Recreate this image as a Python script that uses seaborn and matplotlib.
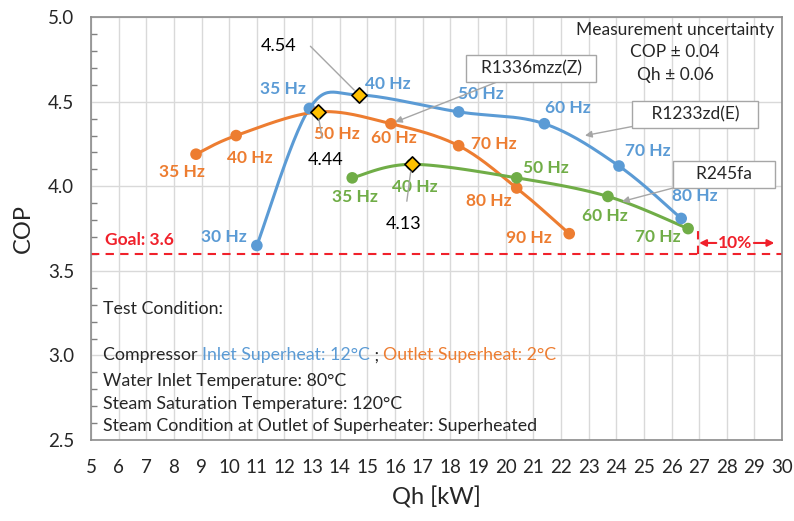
import numpy as np
import matplotlib
matplotlib.use("Agg")
import matplotlib.pyplot as plt
from matplotlib.ticker import MultipleLocator
import pandas as pd
import seaborn as sns

# values
freq_r1233 = ["30 Hz", "35 Hz", "40 Hz", "50 Hz", "60 Hz", "70 Hz", "80 Hz"]
qh_r1233 = [11.0, 12.9, 14.7, 18.3, 21.4, 24.1, 26.35]
cop_r1233 = [3.65, 4.46, 4.54, 4.44, 4.37, 4.12, 3.81]

freq_r1336 = ["35 Hz", "40 Hz", "50 Hz", "60 Hz", "70 Hz", "80 Hz", "90 Hz"]
qh_r1336 = [8.8, 10.25, 13.2, 15.85, 18.3, 20.4, 22.3]
cop_r1336 = [4.19, 4.30, 4.44, 4.37, 4.24, 3.99, 3.72]

freq_r245 = ["35 Hz", "40 Hz", "50 Hz", "60 Hz", "70 Hz"]
qh_r245 = [14.45, 16.6, 20.4, 23.7, 26.6]
cop_r245 = [4.05, 4.13, 4.05, 3.94, 3.75]

goal_cop = 3.6
uncertainty = ["Measurement uncertainty", "COP \u00b1 0.04", "Qh \u00b1 0.06"]
conditions = ["Water Inlet Temperature: 80\u00b0C",
              "Steam Saturation Temperature: 120\u00b0C",
              "Steam Condition at Outlet of Superheater: Superheated"]

BLUE, ORANGE, GREEN = "#5B9BD5", "#ED7D31", "#70AD47"
RED = "#F0212B"
GRAY = "#A6A6A6"

# label offsets (points) for the frequency tags
off_r1233 = [(-24, 6), (-19, 14), (21, 8), (16, 13), (17, 11), (21, 11), (10, 16)]
off_r1336 = [(-10, -13), (10, -16), (14, -16), (2, -10), (25, 1), (-20, -9), (-29, -3)]
off_r245 = [(2, -14), (2, -16), (21, 7), (-2, -14), (-22, -6)]


def smooth(x, y, n=30):
    """Excel-like smoothed line (Catmull-Rom bezier through the points)."""
    p = np.column_stack([x, y]).astype(float)
    p_ext = np.vstack([p[0], p, p[-1]])
    t = np.linspace(0, 1, n)[:, None]
    segs = []
    for i in range(len(p) - 1):
        p0, p1, p2, p3 = p_ext[i], p_ext[i + 1], p_ext[i + 2], p_ext[i + 3]
        b1 = p1 + (p2 - p0) / 6
        b2 = p2 - (p3 - p1) / 6
        seg = ((1 - t) ** 3) * p1 + 3 * ((1 - t) ** 2) * t * b1 + 3 * (1 - t) * t ** 2 * b2 + t ** 3 * p2
        segs.append(seg)
    c = np.vstack(segs)
    return c[:, 0], c[:, 1]


sns.set_theme(style="white")
plt.rcParams["font.family"] = ["Lato", "DejaVu Sans"]

fig = plt.figure(figsize=(7.94, 5.21), dpi=100)
ax = fig.add_axes([0.1146, 0.1555, 0.8704, 0.8115])

df = pd.concat([
    pd.DataFrame({"Qh": qh_r1233, "COP": cop_r1233, "ref": "R1233zd(E)"}),
    pd.DataFrame({"Qh": qh_r1336, "COP": cop_r1336, "ref": "R1336mzz(Z)"}),
    pd.DataFrame({"Qh": qh_r245, "COP": cop_r245, "ref": "R245fa"}),
])
palette = {"R1233zd(E)": BLUE, "R1336mzz(Z)": ORANGE, "R245fa": GREEN}

series = [(qh_r1233, cop_r1233, freq_r1233, off_r1233, BLUE),
          (qh_r1336, cop_r1336, freq_r1336, off_r1336, ORANGE),
          (qh_r245, cop_r245, freq_r245, off_r245, GREEN)]

for qh, cop, freq, offs, col in series:
    sx, sy = smooth(qh, cop)
    ax.plot(sx, sy, color=col, lw=2.2, zorder=3)
    for q, c, f, o in zip(qh, cop, freq, offs):
        ax.annotate(f, (q, c), xytext=o, textcoords="offset points", ha="center", va="center",
                    color=col, fontsize=12.5, fontweight="bold", zorder=6)

sns.scatterplot(data=df, x="Qh", y="COP", hue="ref", palette=palette, s=70,
                edgecolor="none", legend=False, ax=ax, zorder=4)

# maximum COP of each refrigerant
best = [(qh[int(np.argmax(cop))], max(cop)) for qh, cop, *_ in series]
ax.scatter([b[0] for b in best], [b[1] for b in best], marker="D", s=60,
           color="#FFC000", edgecolor="black", linewidth=1.2, zorder=5)
leaders = [((11.77, 4.83), "angle,angleA=0,angleB=135,rad=0"),
           ((13.5, 4.155), "arc3"),
           ((16.32, 3.78), "arc3")]
for (bq, bc), (txt, cs) in zip(best, leaders):
    ax.annotate(f"{bc:.2f}", (bq, bc), xytext=txt, ha="center", va="center", fontsize=13,
                color="black", zorder=6,
                arrowprops=dict(arrowstyle="-", color=GRAY, lw=1, shrinkA=8, shrinkB=5,
                                connectionstyle=cs))

# refrigerant name boxes
for name, (tx, ty), (ax_, ay_) in [("  R1336mzz(Z)  ", (20.92, 4.696), (16.0, 4.38)),
                                   ("   R1233zd(E)   ", (26.85, 4.425), (22.87, 4.30)),
                                   ("    R245fa    ", (27.9, 4.07), (24.21, 3.91))]:
    ax.annotate(name, (ax_, ay_), xytext=(tx, ty), ha="center", va="center", fontsize=12.5,
                bbox=dict(boxstyle="square,pad=0.3", fc="white", ec=GRAY, lw=1),
                arrowprops=dict(arrowstyle="-|>", color=GRAY, lw=1, mutation_scale=10,
                                shrinkA=0, shrinkB=0), zorder=7)

# goal line
ax.axhline(goal_cop, color=RED, ls=(0, (4, 3)), lw=1.5, zorder=2)
ax.text(5.5, 3.68, f"Goal: {goal_cop}", color=RED, fontsize=12.5, fontweight="bold",
        ha="left", va="center")
ax.plot([26.96, 26.96], [goal_cop, 3.75], color=RED, ls=(0, (4, 3)), lw=1.5)
ax.text(28.3, 3.665, "10%", color=RED, fontsize=12.5, fontweight="bold", ha="center", va="center")
ax.annotate("", (27.0, 3.665), xytext=(27.62, 3.665),
            arrowprops=dict(arrowstyle="-|>", color=RED, lw=1.5, mutation_scale=10, shrinkA=0, shrinkB=0))
ax.annotate("", (29.72, 3.665), xytext=(28.98, 3.665),
            arrowprops=dict(arrowstyle="-|>", color=RED, lw=1.5, mutation_scale=10, shrinkA=0, shrinkB=0))

for yy, line in zip([4.923, 4.793, 4.66], uncertainty):
    ax.text(26.13, yy, line, ha="center", va="center", fontsize=12.5)

# test condition block
fs = 12.8
ax.text(5.43, 3.274, "Test Condition:", fontsize=fs, ha="left", va="center")
t1 = ax.text(5.43, 3.0, "Compressor ", fontsize=fs, ha="left", va="center")
t2 = ax.annotate("Inlet Superheat: 12\u00b0C", xy=(1, 0), xycoords=t1, va="bottom",
                 fontsize=fs, color=BLUE)
t3 = ax.annotate(" ; ", xy=(1, 0), xycoords=t2, va="bottom", fontsize=fs)
ax.annotate("Outlet Superheat: 2\u00b0C", xy=(1, 0), xycoords=t3, va="bottom",
            fontsize=fs, color=ORANGE)
for yy, line in zip([2.849, 2.713, 2.583], conditions):
    ax.text(5.43, yy, line, fontsize=fs, ha="left", va="center")

ax.set_xlim(5, 30)
ax.set_ylim(2.5, 5.0)
ax.xaxis.set_major_locator(MultipleLocator(1))
ax.yaxis.set_major_locator(MultipleLocator(0.5))
ax.yaxis.set_minor_locator(MultipleLocator(0.1))
ax.yaxis.set_major_formatter(plt.FormatStrFormatter("%.1f"))
ax.grid(True, which="major", color="#D9D9D9", lw=1)
ax.tick_params(axis="both", which="both", direction="in", color="#808080", labelsize=13.5)
ax.tick_params(axis="x", length=5, pad=14)
ax.tick_params(axis="y", which="major", length=5, pad=12)
ax.tick_params(axis="y", which="minor", length=4, left=True)
for sp in ax.spines.values():
    sp.set_color("#8C8C8C")
    sp.set_linewidth(1.2)

ax.set_xlabel("Qh [kW]", fontsize=17, labelpad=7)
ax.set_ylabel("COP", fontsize=17, labelpad=10)

fig.savefig("out.png", dpi=100)
